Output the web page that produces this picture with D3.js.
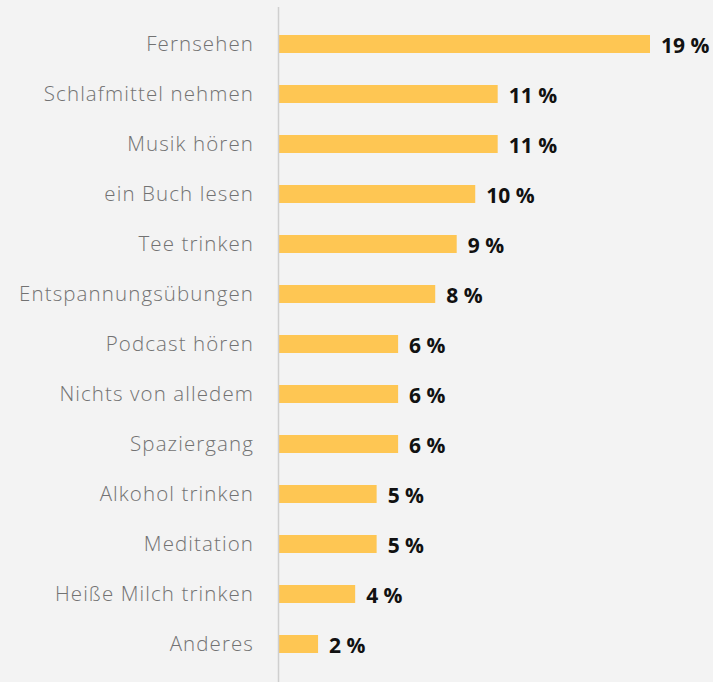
<!DOCTYPE html>
<html><head><meta charset="utf-8">
<script src="https://cdn.jsdelivr.net/npm/d3@7"></script>
<style>
html,body{margin:0;padding:0;background:#f3f3f3;}
svg{display:block;}
</style></head>
<body>
<script>
const categories = ["Fernsehen","Schlafmittel nehmen","Musik hören","ein Buch lesen","Tee trinken","Entspannungsübungen","Podcast hören","Nichts von alledem","Spaziergang","Alkohol trinken","Meditation","Heiße Milch trinken","Anderes"];
const values = [19, 11.2, 11.2, 10.05, 9.1, 8, 6.1, 6.1, 6.1, 5, 5, 3.9, 2];
const valueLabels = ["19 %","11 %","11 %","10 %","9 %","8 %","6 %","6 %","6 %","5 %","5 %","4 %","2 %"];

const W = 713, H = 682;
const svg = d3.select("body").append("svg").attr("width", W).attr("height", H);
svg.append("rect").attr("width", W).attr("height", H).attr("fill", "#f3f3f3");

const x0 = 279;
const x = d3.scaleLinear().domain([0, 19]).range([x0, 650]);
const y = d3.scaleBand().domain(categories).range([19, 669]).paddingInner(0.64).paddingOuter(0.32);

const data = categories.map((c, i) => ({c, v: values[i], l: valueLabels[i]}));

svg.selectAll("rect.bar").data(data).join("rect").attr("class","bar")
  .attr("x", x(0)).attr("y", d => y(d.c)).attr("width", d => x(d.v) - x(0)).attr("height", y.bandwidth())
  .attr("fill", "#fec653");

svg.append("line").attr("x1", x0 - 0.5).attr("x2", x0 - 0.5).attr("y1", 7).attr("y2", H)
  .attr("stroke", "#cfcfcf").attr("stroke-width", 1.5);

svg.selectAll("text.cat").data(data).join("text").attr("class","cat")
  .attr("x", 254).attr("y", d => y(d.c) + y.bandwidth()/2 + 7)
  .attr("text-anchor","end").attr("font-family","Open Sans").attr("font-weight", 300)
  .attr("font-size", 20.5).attr("letter-spacing", 1.1).attr("fill", "#727272").text(d => d.c);

svg.selectAll("text.val").data(data).join("text").attr("class","val")
  .attr("x", d => x(d.v) + 11).attr("y", d => y(d.c) + y.bandwidth()/2 + 8.5)
  .attr("font-family","Open Sans").attr("font-weight", 700)
  .attr("font-size", 21).attr("fill", "#111").text(d => d.l);
</script>
</body></html>
